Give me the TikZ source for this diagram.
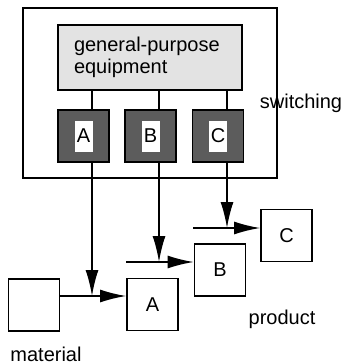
\documentclass[tikz,border=0pt]{standalone}
\usepackage{fontspec}
\setmainfont{Liberation Sans}
\usetikzlibrary{positioning,arrows.meta}
\colorlet{lightdots}{black!11}
\colorlet{darkdots}{black!64}

\begin{document}
\begin{tikzpicture}[x=1pt,y=-1pt,line width=1.7pt,
    every node/.style={font=\fontsize{20}{22}\selectfont},
    box/.style={draw,minimum width=51pt,minimum height=52pt},
    mod/.style={draw,fill=darkdots,minimum width=51pt,minimum height=52pt},
    tag/.style={fill=white,inner sep=0pt,minimum width=18pt,minimum height=31pt},
    arr/.style={-{Latex[length=26pt,width=13pt]}}]
  \useasboundingbox (0,0) rectangle (348,364);
  % switching unit
  \node[draw,minimum width=254pt,minimum height=170pt] (frame) at (150,93) {};
  \node[draw,fill=lightdots,minimum width=184pt,minimum height=65pt,text width=152pt,inner xsep=16pt,align=left] (gp) at (150,57.5) {\raisebox{-3pt}{general-purpose}\\\raisebox{-3pt}{equipment}};
  \node[mod] (mA) at (83.5,136) {};
  \node[mod] (mB) at (150.5,136) {};
  \node[mod] (mC) at (218,136) {};
  \node[tag] (tA) at (mA) {A};
  \node[tag] (tB) at (mB) {B};
  \node[tag] (tC) at (mC) {C};
  \node (sw) at (301,103) {switching};
  % line
  \node[box] (raw) at (34,305) {};
  \node[box] (pA) at (152.5,304.5) {A};
  \node[box] (pB) at (220,270) {B};
  \node[box] (pC) at (286.5,235.5) {C};
  \node (prod) at (282,319) {product};
  \node (mat) at (46,354) {material};
  \coordinate (jA) at (92,296);
  \coordinate (jB) at (159,262);
  \coordinate (jC) at (227,228);
  \coordinate (sB) at (126,262);
  \coordinate (sC) at (193,228);
  \draw (jA |- gp.south) -- (jA |- mA.north);
  \draw (jB |- gp.south) -- (jB |- mB.north);
  \draw (jC |- gp.south) -- (jC |- mC.north);
  \draw[arr] (jA |- mA.south) -- (jA);
  \draw[arr] (jB |- mB.south) -- (jB);
  \draw[arr] (jC |- mC.south) -- (jC);
  \draw[arr] (raw.east |- jA) -- (pA.west |- jA);
  \draw[arr] (sB) -- (pB.west |- sB);
  \draw[arr] (sC) -- (pC.west |- sC);
\end{tikzpicture}
\end{document}
